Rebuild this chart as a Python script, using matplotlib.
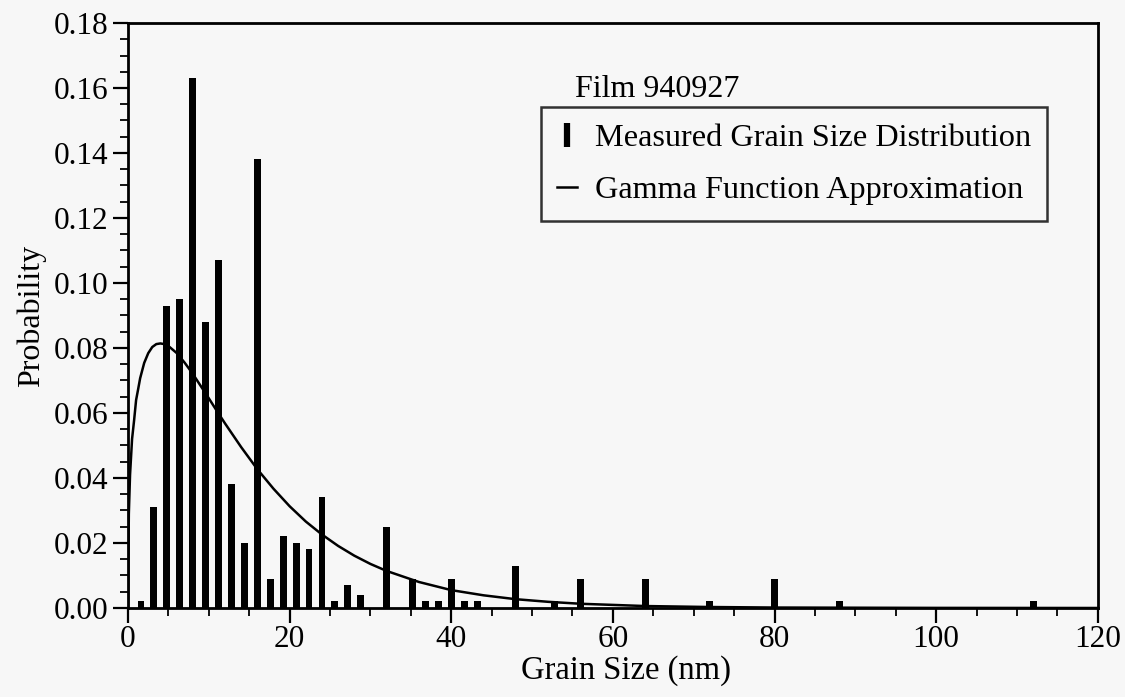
import matplotlib
matplotlib.use("Agg")
import matplotlib.pyplot as plt
from matplotlib.lines import Line2D
from matplotlib.ticker import MultipleLocator, FormatStrFormatter

# measured grain size histogram (bin width 1.6 nm)
grain_size = [1.6, 3.2, 4.8, 6.4, 8.0, 9.6, 11.2, 12.8, 14.4, 16.0, 17.6, 19.2,
              20.8, 22.4, 24.0, 25.6, 27.2, 28.8, 32.0, 35.2, 36.8, 38.4, 40.0,
              41.6, 43.2, 48.0, 52.8, 56.0, 64.0, 72.0, 80.0, 88.0, 112.0]
probability = [0.002, 0.031, 0.093, 0.095, 0.163, 0.088, 0.107, 0.038, 0.020,
               0.138, 0.009, 0.022, 0.020, 0.018, 0.034, 0.002, 0.007, 0.004,
               0.025, 0.009, 0.002, 0.002, 0.009, 0.002, 0.002, 0.013, 0.002,
               0.009, 0.009, 0.002, 0.009, 0.002, 0.002]

# gamma function approximation
gamma_x = [0, 0.1, 0.25, 0.5, 0.75, 1, 1.25, 1.5, 2, 2.5, 3, 3.5, 4, 4.5, 5, 6,
           7, 8, 9, 10, 11, 12, 14, 16, 18, 20, 22, 24, 26, 28, 30, 32, 36, 40,
           44, 48, 52, 56, 64, 72, 80, 100, 120]
gamma_y = [0.0, 0.029, 0.041, 0.052, 0.0577, 0.064, 0.0673, 0.0707, 0.0754,
           0.0784, 0.0803, 0.0812, 0.0814, 0.0812, 0.0806, 0.0785, 0.0755,
           0.0721, 0.0683, 0.0645, 0.0606, 0.0568, 0.0495, 0.0427, 0.0367,
           0.0313, 0.0266, 0.0226, 0.0191, 0.0161, 0.01355, 0.0114, 0.0080,
           0.0055, 0.0039, 0.0027, 0.0019, 0.0013, 0.0006, 0.0003, 0.00014,
           0.00003, 0.0]

plt.rcParams["font.family"] = ["Liberation Serif", "DejaVu Serif"]
bg = "#f7f7f7"

fig = plt.figure(figsize=(11.25, 6.97), dpi=100, facecolor=bg)
ax = fig.add_axes([0.1138, 0.1277, 0.862, 0.8393], facecolor=bg)

ax.bar(grain_size, probability, width=0.85, color="black", zorder=2)
ax.plot(gamma_x, gamma_y, color="black", linewidth=1.8, zorder=3)

ax.set_xlim(0, 120)
ax.set_ylim(0, 0.18)
ax.xaxis.set_major_locator(MultipleLocator(20))
ax.xaxis.set_minor_locator(MultipleLocator(5))
ax.yaxis.set_major_locator(MultipleLocator(0.02))
ax.yaxis.set_minor_locator(MultipleLocator(0.005))
ax.yaxis.set_major_formatter(FormatStrFormatter("%.2f"))

ax.tick_params(which="major", direction="out", length=11, width=1.6,
               labelsize=22.5)
ax.tick_params(axis="y", which="major", pad=3)
ax.tick_params(axis="x", which="major", pad=1)
ax.tick_params(which="minor", direction="out", length=6, width=1.3)
for s in ax.spines.values():
    s.set_linewidth(2.0)

ax.set_xlabel("Grain Size (nm)", fontsize=23.5, labelpad=0)
ax.xaxis.set_label_coords(0.513, -0.08)
ax.set_ylabel("Probability", fontsize=23, labelpad=6)

handles = [
    Line2D([], [], color="black", marker="|", linestyle="none",
           markersize=17, markeredgewidth=4.5),
    Line2D([], [], color="black", linewidth=1.8),
]
leg = ax.legend(handles, ["Measured Grain Size Distribution",
                          "Gamma Function Approximation"],
                loc="upper left", bbox_to_anchor=(0.426, 0.856),
                borderaxespad=0, fontsize=23.2, frameon=True, fancybox=False,
                handlelength=0.62, handletextpad=0.55, borderpad=0.5,
                labelspacing=0.7, facecolor=bg)
leg.get_frame().set_edgecolor("black")
leg.get_frame().set_linewidth(1.8)

ax.text(0.461, 0.887, "Film 940927", transform=ax.transAxes,
        fontsize=23, va="center", ha="left")

fig.savefig("out.png", dpi=100, facecolor=bg)
